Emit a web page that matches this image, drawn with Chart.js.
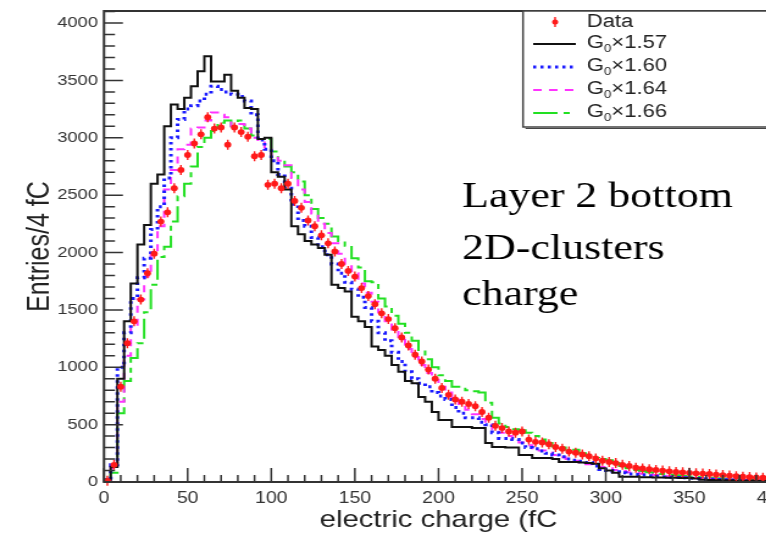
<!DOCTYPE html>
<html><head><meta charset="utf-8">
<script src="https://cdn.jsdelivr.net/npm/chart.js@4.4.1/dist/chart.umd.min.js"></script>
<style>
html,body{margin:0;padding:0;overflow:hidden;background:#fff;width:766px;height:541px}
#wrap{position:absolute;left:0;top:0;width:660px;height:541px;transform:scaleX(1.22);transform-origin:0 0}
</style></head><body>
<div id="wrap"><canvas id="c" width="660" height="541"></canvas></div>
<script>
// ---- data (entries per 4 fC bin, bins 0-4, 4-8, ..., 396-400) ----
const BIN_WIDTH = 4;
const xTicks = [0, 50, 100, 150, 200, 250, 300, 350, 400];
const yTicks = [0, 500, 1000, 1500, 2000, 2500, 3000, 3500, 4000];
const xTitle = 'electric charge (fC';
const yTitle = 'Entries/4 fC';
const noteLines = ['Layer 2 bottom', '2D-clusters', 'charge'];
const seriesLabels = ['Data', 'G\u2080\u00d71.57', 'G\u2080\u00d71.60', 'G\u2080\u00d71.64', 'G\u2080\u00d71.66'];
const legendFactors = ['\u00d71.57', '\u00d71.60', '\u00d71.64', '\u00d71.66'];

const dataEntries = [
  10,150,830,1210,1400,1590,1820,1990,2270,2350,
  2560,2720,2850,2950,3030,3180,3080,3090,2940,3090,
  3050,3010,2840,2850,2590,2600,2560,2600,2450,2390,
  2280,2230,2150,2080,2010,1900,1840,1790,1690,1620,
  1550,1470,1420,1340,1260,1190,1110,1050,980,900,
  820,760,720,700,680,660,610,560,490,470,
  440,430,440,370,350,345,330,305,290,265,
  255,240,225,205,185,175,165,150,140,125,
  118,112,105,100,93,88,84,80,76,73,
  70,65,60,56,50,46,43,40,37,34];
const g157 = [
  20,130,900,1400,1730,2070,2240,2600,2680,3100,
  3290,3250,3350,3450,3580,3710,3490,3490,3550,3410,
  3350,3260,3250,2990,3000,2700,2660,2550,2230,2160,
  2100,2070,2040,1980,1720,1690,1660,1440,1400,1350,
  1180,1150,1100,1020,960,880,860,740,700,610,
  540,540,480,480,480,470,470,340,305,305,
  300,300,235,235,210,210,210,200,175,175,
  175,170,165,160,120,100,80,45,45,45,
  42,42,40,40,38,38,35,35,30,20,
  18,18,16,15,14,12,12,10,10,8];
const g160 = [
  20,150,1000,1300,1600,1780,1950,2200,2400,2650,
  3000,3160,3250,3280,3320,3380,3450,3420,3400,3380,
  3360,3320,3200,2980,2900,2800,2680,2560,2420,2280,
  2230,2130,2050,1980,1900,1820,1740,1680,1610,1520,
  1400,1300,1230,1130,1050,960,900,860,830,780,
  750,720,650,600,560,560,520,500,430,380,
  380,370,340,300,290,270,250,235,220,200,
  190,180,170,140,110,100,90,80,70,65,
  60,55,50,46,42,40,36,33,30,28,
  25,22,20,18,16,15,13,12,10,9];
const g164 = [
  15,120,700,1100,1370,1590,1790,2000,2230,2550,
  2720,2900,2940,3080,3090,3150,3220,3200,3180,3100,
  3120,3080,3000,2960,2900,2850,2800,2760,2650,2550,
  2440,2340,2250,2170,2080,1990,1900,1820,1730,1650,
  1570,1480,1400,1320,1240,1160,1090,1020,950,890,
  830,780,730,680,630,590,550,500,460,430,
  400,370,345,320,295,275,255,235,215,200,
  185,170,155,140,130,120,105,95,85,80,
  72,66,60,55,50,46,42,38,35,32,
  29,26,24,22,20,18,16,15,13,12];
const g166 = [
  10,80,600,880,1080,1210,1480,1720,1960,2050,
  2270,2490,2600,2750,2920,3000,3060,3130,3150,3100,
  3150,3080,3020,2990,2990,2880,2800,2750,2700,2620,
  2500,2380,2300,2250,2140,2100,2060,1950,1870,1750,
  1740,1600,1530,1450,1380,1300,1230,1150,1070,1000,
  930,880,830,830,800,790,780,690,560,510,
  480,460,450,430,400,370,340,310,300,280,
  280,250,230,210,200,190,165,140,120,105,
  95,85,78,70,64,58,52,48,44,40,
  36,33,30,28,26,24,22,20,18,16];

// ---- helpers ----
function histPoints(vals){
  const pts = vals.map((v,i)=>({x:i*BIN_WIDTH, y:v}));
  pts.push({x:vals.length*BIN_WIDTH, y:vals[vals.length-1]});
  return pts;
}
function dataPoints(vals){ return vals.map((v,i)=>({x:i*BIN_WIDTH+BIN_WIDTH/2, y:v})); }

const COL = {data:'#ff1a1a', c157:'#111111', c160:'#1a1aff', c164:'#ff33ff', c166:'#22e022'};
const DASH = {c157:[], c160:[2.5,3.5], c164:[7,6], c166:[20,5,5,5]};
const LW = {c157:2, c160:3, c164:2, c166:2};

Chart.defaults.font.family = "'Liberation Sans', Arial, Helvetica, sans-serif";

const PLOT_LEFT = 104/1.22, PLOT_RIGHT = 773/1.22, CW = 660, CH = 541;

const framePlugin = {
  id:'frame',
  afterDatasetsDraw(chart){
    const {ctx, chartArea:a, scales:{x,y}} = chart;
    // data error bars (fixed visual size)
    const meta = chart.getDatasetMeta(0);
    ctx.save();
    ctx.strokeStyle = COL.data; ctx.lineWidth = 1.4;
    ctx.beginPath();
    meta.data.forEach(p=>{ if(p.y < a.bottom-1){ ctx.moveTo(p.x,p.y-5); ctx.lineTo(p.x,p.y+5);} });
    ctx.stroke();
    // ticks
    ctx.strokeStyle = '#333'; ctx.lineWidth = 1.5;
    ctx.beginPath();
    for (let v=0; v<=4100; v+=100){
      const py = y.getPixelForValue(v); const len = (v%500===0)?15.5:9;
      ctx.moveTo(a.left,py); ctx.lineTo(a.left+len,py);
    }
    for (let v=0; v<=400; v+=10){
      const px = x.getPixelForValue(v); const len = (v%50===0)?14:7;
      ctx.moveTo(px,a.bottom); ctx.lineTo(px,a.bottom-len);
    }
    ctx.stroke();
    ctx.lineWidth = 2;
    ctx.strokeRect(a.left, a.top, a.right-a.left, a.bottom-a.top);
    ctx.restore();
  },
  afterDraw(chart){
    const ctx = chart.ctx;
    ctx.save();
    // annotation text
    ctx.fillStyle = '#000';
    ctx.font = "36px 'Liberation Serif', 'Times New Roman', serif";
    ctx.textBaseline = 'alphabetic'; ctx.textAlign = 'left';
    const nx = 462/1.22, nys = [207, 259, 305];
    noteLines.forEach((t,i)=>ctx.fillText(t, nx, nys[i]));
    // legend box
    const L = 523/1.22, T = 11, R = CW, B = 127;
    ctx.fillStyle = '#fff'; ctx.fillRect(L, T, R-L, B-T);
    ctx.strokeStyle = '#444'; ctx.lineWidth = 1.5; ctx.strokeRect(L, T, R-L+5, B-T);
    ctx.beginPath(); ctx.lineWidth = 1.2; ctx.moveTo(L+2, B+1.5); ctx.lineTo(R, B+1.5); ctx.stroke();
    const rows = [22, 43, 66, 89, 112];
    const sx0 = 437, sx1 = 472, tx = 481;
    // Data marker
    ctx.fillStyle = COL.data; ctx.strokeStyle = COL.data; ctx.lineWidth = 1.4;
    ctx.beginPath(); ctx.moveTo(455, rows[0]-5); ctx.lineTo(455, rows[0]+5); ctx.stroke();
    ctx.beginPath(); ctx.arc(455, rows[0], 2.5, 0, Math.PI*2); ctx.fill();
    const keys = ['c157','c160','c164','c166'];
    keys.forEach((k,i)=>{
      const yy = rows[i+1];
      ctx.strokeStyle = COL[k]; ctx.lineWidth = LW[k]; ctx.setLineDash(DASH[k]);
      ctx.beginPath(); ctx.moveTo(sx0, yy+1); ctx.lineTo(sx1, yy+1); ctx.stroke();
    });
    ctx.setLineDash([]);
    ctx.fillStyle = '#222'; ctx.textBaseline = 'middle';
    ctx.font = "18px 'Liberation Sans', Arial, sans-serif";
    ctx.fillText(seriesLabels[0], tx, rows[0]);
    legendFactors.forEach((f,i)=>{
      const yy = rows[i+1];
      ctx.font = "18px 'Liberation Sans', Arial, sans-serif";
      ctx.fillText('G', tx, yy);
      let w = ctx.measureText('G').width;
      ctx.font = "11px 'Liberation Sans', Arial, sans-serif";
      ctx.fillText('0', tx+w, yy+6);
      w += ctx.measureText('0').width;
      ctx.font = "18px 'Liberation Sans', Arial, sans-serif";
      ctx.fillText(f, tx+w, yy);
    });
    ctx.restore();
  }
};

function histDS(label, vals, k){
  return {type:'line', label, data:histPoints(vals), stepped:'before', borderColor:COL[k],
    borderWidth:LW[k], borderDash:DASH[k], pointRadius:0, fill:false, tension:0};
}

new Chart(document.getElementById('c'), {
  type:'line',
  data:{datasets:[
    {type:'line', label:seriesLabels[0], data:dataPoints(dataEntries), showLine:false,
     pointRadius:2.9, pointStyle:'circle', backgroundColor:COL.data, borderColor:COL.data, borderWidth:0},
    histDS(seriesLabels[1], g157, 'c157'),
    histDS(seriesLabels[2], g160, 'c160'),
    histDS(seriesLabels[3], g164, 'c164'),
    histDS(seriesLabels[4], g166, 'c166')
  ]},
  options:{
    responsive:false, animation:false, devicePixelRatio:1,
    layout:{padding:{left:0, top:11, right:CW-PLOT_RIGHT, bottom:0}},
    plugins:{legend:{display:false}, tooltip:{enabled:false}},
    scales:{
      x:{type:'linear', position:'bottom', min:0, max:400,
        grid:{display:false, drawTicks:false}, border:{display:false},
        ticks:{autoSkip:false, maxRotation:0, padding:7, color:'#333', font:{size:16},
               callback:v=>String(v)},
        afterBuildTicks:s=>{s.ticks = xTicks.map(v=>({value:v}));},
        afterFit:s=>{s.height = CH-482; s.paddingLeft=0; s.paddingRight=0;},
        title:{display:true, text:xTitle, color:'#222', font:{size:24}, padding:{top:0, bottom:6}}},
      y:{type:'linear', position:'left', min:0, max:4105,
        grid:{display:false, drawTicks:false}, border:{display:false},
        ticks:{padding:5, color:'#333', font:{size:15}, callback:v=>String(v)},
        afterBuildTicks:s=>{s.ticks = yTicks.map(v=>({value:v}));},
        afterFit:s=>{s.width = PLOT_LEFT; s.paddingTop=0; s.paddingBottom=0;},
        title:{display:true, text:yTitle, color:'#222', font:{size:25}, padding:{top:18, bottom:0}}}
    }
  },
  plugins:[framePlugin]
});
</script>
</body></html>
